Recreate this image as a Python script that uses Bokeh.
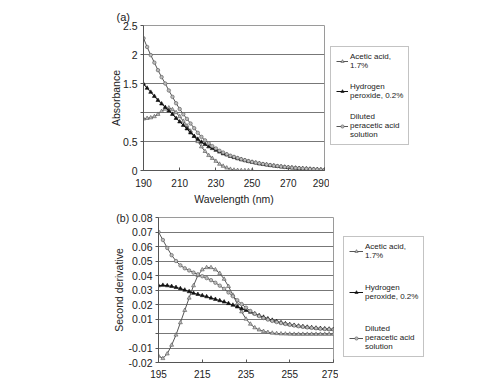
from bokeh.plotting import figure
from bokeh.models import Legend, LegendItem, FixedTicker
from bokeh.layouts import column, row
from bokeh.embed import file_html
from bokeh.resources import INLINE

# ---------------- data (a): absorbance ----------------
wl_a = list(range(190, 291, 2))
wl_a_acetic = list(range(190, 251, 2))
abs_acetic = [0.89, 0.90, 0.91, 0.93, 0.97, 1.02, 1.06, 1.08, 1.05, 1.00,
              0.93, 0.85, 0.77, 0.68, 0.59, 0.50, 0.41, 0.33, 0.26, 0.21,
              0.16, 0.11, 0.075, 0.045, 0.022, 0.008, 0.003, 0.001, 0.0, 0.0,
              0.0]
abs_h2o2 = [1.49, 1.42, 1.35, 1.28, 1.21, 1.15, 1.09, 1.03, 0.97, 0.90,
            0.84, 0.78, 0.72, 0.65, 0.59, 0.54, 0.49, 0.45, 0.41, 0.38,
            0.35, 0.32, 0.29, 0.27, 0.245, 0.225, 0.205, 0.188, 0.172, 0.157,
            0.143, 0.130, 0.118, 0.107, 0.097, 0.088, 0.080, 0.072, 0.065, 0.058,
            0.052, 0.047, 0.042, 0.037, 0.033, 0.029, 0.025, 0.021, 0.017, 0.013,
            0.010]
abs_diluted = [2.28, 2.13, 1.99, 1.86, 1.73, 1.61, 1.50, 1.38, 1.27, 1.16,
               1.06, 0.97, 0.89, 0.81, 0.73, 0.65, 0.58, 0.52, 0.47, 0.42,
               0.38, 0.34, 0.31, 0.28, 0.255, 0.235, 0.215, 0.195, 0.178, 0.162,
               0.148, 0.135, 0.123, 0.112, 0.102, 0.093, 0.084, 0.076, 0.068, 0.061,
               0.055, 0.049, 0.044, 0.039, 0.034, 0.030, 0.026, 0.022, 0.018, 0.014,
               0.010]
xticks_a = [190, 210, 230, 250, 270, 290]
yticks_a = [0, 0.5, 1, 1.5, 2, 2.5]
ylabels_a = ["0", "0.5", "", "1.5", "2", "2.5"]

# ---------------- data (b): second derivative ----------------
wl_b = list(range(195, 276, 2))
d2_acetic = [-0.0155, -0.0172, -0.0140, -0.0080, -0.0010, 0.0075, 0.0160, 0.0245, 0.0330, 0.0400,
             0.0440, 0.0455, 0.0455, 0.0440, 0.0415, 0.0375, 0.0325, 0.0265, 0.0205, 0.0150,
             0.0100, 0.0065, 0.0040, 0.0025, 0.0015, 0.0008, 0.0003, 0.0, -0.0002, -0.0003,
             -0.0004, -0.0005, -0.0005, -0.0005, -0.0005, -0.0005, -0.0005, -0.0005, -0.0005, -0.0005,
             -0.0005]
d2_h2o2 = [0.0330, 0.0333, 0.0330, 0.0325, 0.0318, 0.0310, 0.0300, 0.0289, 0.0278, 0.0270,
           0.0262, 0.0254, 0.0245, 0.0236, 0.0227, 0.0218, 0.0207, 0.0196, 0.0184, 0.0172,
           0.0160, 0.0148, 0.0136, 0.0124, 0.0113, 0.0102, 0.0092, 0.0083, 0.0075, 0.0068,
           0.0062, 0.0057, 0.0052, 0.0048, 0.0044, 0.0041, 0.0038, 0.0035, 0.0033, 0.0031,
           0.0029]
d2_diluted = [0.0700, 0.0645, 0.0590, 0.0540, 0.0500, 0.0470, 0.0450, 0.0435, 0.0420, 0.0408,
              0.0395, 0.0382, 0.0368, 0.0350, 0.0330, 0.0308, 0.0283, 0.0257, 0.0230, 0.0203,
              0.0178, 0.0155, 0.0136, 0.0120, 0.0107, 0.0096, 0.0087, 0.0079, 0.0072, 0.0066,
              0.0060, 0.0055, 0.0050, 0.0046, 0.0042, 0.0039, 0.0036, 0.0033, 0.0031, 0.0029,
              0.0027]
xticks_b = [195, 215, 235, 255, 275]
yticks_b = [-0.02, -0.01, 0, 0.01, 0.02, 0.03, 0.04, 0.05, 0.06, 0.07, 0.08]
ylabels_b = ["-0.02", "-0.01", "", "0.01", "0.02", "0.03", "0.04", "0.05", "0.06", "0.07", "(b) 0.08"]

labels = ["Acetic acid,\n1.7%", "Hydrogen\nperoxide, 0.2%", "Diluted\nperacetic acid\nsolution"]

FONT = "Liberation Sans"
TXT = "#222222"
GRID = "#777777"
STYLES = [("#555555", "triangle", "#bbbbbb", 4),
          ("#111111", "triangle", "#111111", 4),
          ("#555555", "circle", "#bbbbbb", 3.5)]


def style(p, xt, yt, ylab):
    p.xaxis.ticker = FixedTicker(ticks=xt)
    p.yaxis.ticker = FixedTicker(ticks=yt)
    p.yaxis.major_label_overrides = dict(zip(yt, ylab))
    p.xaxis.major_label_overrides = {t: str(t) for t in xt}
    p.xgrid.visible = False
    p.ygrid.grid_line_color = GRID
    p.ygrid.grid_line_width = 1
    p.outline_line_color = "#9a9a9a"
    for ax in (p.xaxis, p.yaxis):
        ax.axis_line_color = "#555555"
        ax.major_tick_line_color = "#555555"
        ax.minor_tick_line_color = None
        ax.major_label_text_font = FONT
        ax.major_label_text_color = TXT
        ax.axis_label_text_font = FONT
        ax.axis_label_text_font_style = "normal"
        ax.axis_label_text_color = TXT
        ax.axis_label_text_font_size = "10.5px"
    p.xaxis.major_label_text_font_size = "10px"
    p.yaxis.major_label_text_font_size = "10.5px"
    p.yaxis.major_tick_out = 3
    p.yaxis.major_tick_in = 0
    p.xaxis.major_tick_out = 0
    p.xaxis.major_tick_in = 3


def add_series(p, x, y, st):
    line_color, marker, fill, size = st
    p.line(x, y, line_color=line_color, line_width=1)
    p.scatter(x, y, marker=marker, size=size, line_color=line_color,
              fill_color=fill, line_width=0.6)


def legend_fig(width, height, top, bottom, left, loc, glyph_w, spacing, padding, line_h):
    # blank companion figure with the same top/bottom borders as its chart,
    # so that the row keeps both frames aligned as intended
    f = figure(width=width, height=height, x_range=(0, 1), y_range=(0, 1),
               x_axis_location=None, y_axis_location=None,
               output_backend="svg", toolbar_location=None,
               min_border_top=top, min_border_bottom=bottom,
               min_border_left=left, min_border_right=0,
               outline_line_color=None)
    f.grid.visible = False
    items = []
    for lab, st in zip(labels, STYLES):
        line_color, marker, fill, size = st
        # legend swatches only: points lie outside this blank frame's range
        ln = f.line(x=[5, 6], y=[5, 6], line_color=line_color, line_width=1)
        sc = f.scatter(x=[5.5], y=[5.5], marker=marker, size=size, line_color=line_color,
                       fill_color=fill, line_width=0.6)
        items.append(LegendItem(label=lab, renderers=[ln, sc]))
    leg = Legend(items=items, location=loc, orientation="vertical",
                 label_text_font=FONT, label_text_font_size="8px", label_text_color=TXT,
                 label_text_line_height=line_h,
                 glyph_width=glyph_w, glyph_height=8, label_height=8, label_standoff=2,
                 spacing=spacing, padding=padding, margin=0,
                 border_line_color="#888888", background_fill_color="white",
                 background_fill_alpha=1)
    f.add_layout(leg)
    return f


# ---------------- panel (a) ----------------
pA = figure(width=329, height=207, x_range=(190, 290), y_range=(0, 2.5),
            output_backend="svg", toolbar_location=None,
            min_border_left=143, min_border_right=5,
            min_border_top=25, min_border_bottom=37)
style(pA, xticks_a, yticks_a, ylabels_a)
pA.title.text = "(a)"
pA.title.text_font = FONT
pA.title.text_font_size = "11px"
pA.title.text_font_style = "normal"
pA.title.text_color = TXT
pA.title.align = "left"
pA.title.offset = -27
pA.title.standoff = 6
pA.xaxis.axis_label = "Wavelength (nm)"
pA.yaxis.axis_label = "Absorbance"
pA.xaxis.major_label_standoff = 8
pA.xaxis.axis_label_standoff = 3
pA.yaxis.major_label_standoff = 3
pA.yaxis.axis_label_standoff = -2

add_series(pA, wl_a_acetic, abs_acetic, STYLES[0])
add_series(pA, wl_a, abs_h2o2, STYLES[1])
add_series(pA, wl_a, abs_diluted, STYLES[2])

legA = legend_fig(163, 207, 25, 37, 1, (0, 25), 12, 12, 5, 1.1)

# ---------------- panel (b) ----------------
pB = figure(width=338, height=175, x_range=(195, 275), y_range=(-0.02, 0.08),
            output_backend="svg", toolbar_location=None,
            min_border_left=158, min_border_right=5,
            min_border_top=10, min_border_bottom=20)
style(pB, xticks_b, yticks_b, ylabels_b)
pB.yaxis.axis_label = "Second derivative"
pB.xaxis.major_label_standoff = 7
pB.yaxis.major_label_standoff = 3
pB.yaxis.axis_label_standoff = -12

add_series(pB, wl_b, d2_acetic, STYLES[0])
add_series(pB, wl_b, d2_h2o2, STYLES[1])
add_series(pB, wl_b, d2_diluted, STYLES[2])

legB = legend_fig(154, 175, 10, 20, 5, (0, 5), 14, 23, 5, 1.25)

layout = column(row(pA, legA, spacing=0), row(pB, legB, spacing=0), spacing=0)
open("out.html", "w").write(file_html(layout, INLINE))
